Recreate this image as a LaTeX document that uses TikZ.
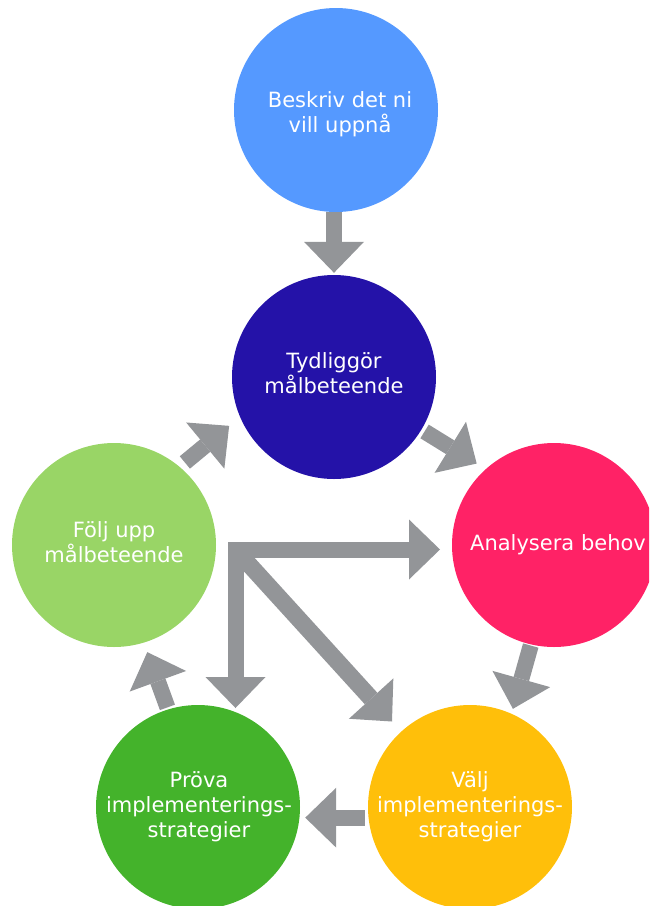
\documentclass[tikz,border=0pt]{standalone}
\usepackage{fontspec}
\setmainfont{DejaVu Sans}
\usetikzlibrary{arrows.meta,calc}
\definecolor{cblue}{RGB}{85,153,255}
\definecolor{cnavy}{RGB}{36,18,168}
\definecolor{cpink}{RGB}{255,34,102}
\definecolor{clgreen}{RGB}{153,213,102}
\definecolor{cgreen}{RGB}{68,179,43}
\definecolor{cyellow}{RGB}{255,191,10}
\definecolor{cgray}{RGB}{147,149,152}
\tikzset{
  >={Triangle[width=60pt,length=31pt,line width=0pt]},
  disc/.style={circle, minimum size=204pt, inner sep=0pt, draw=none},
  disctext/.style={text=white, align=center, inner sep=0pt,
    font=\fontsize{21pt}{25pt}\selectfont},
  gflow/.style={draw=cgray, line width=16pt, line join=miter, ->},
}
\begin{document}
\begin{tikzpicture}[x=1pt,y=-1pt]
\useasboundingbox (0,0) rectangle (649,906);
\clip (0,0) rectangle (649,906);
\node[disc, fill=cblue]   (blue)   at (336,110) {};
\node[disc, fill=cnavy]   (navy)   at (334,377) {};
\node[disc, fill=cpink]   (pink)   at (554,545) {};
\node[disc, fill=clgreen] (lgreen) at (114,545) {};
\node[disc, fill=cgreen]  (green)  at (198,807) {};
\node[disc, fill=cyellow] (yellow) at (470,807) {};
\node[disctext] (blue-t)   at ($(blue)+(4,4)$)    {Beskriv det ni\\vill uppnå};
\node[disctext] (navy-t)   at ($(navy)+(0,-4)$)   {Tydliggör\\målbeteende};
\node[disctext] (pink-t)   at ($(pink)+(4,0)$)    {Analysera behov};
\node[disctext] (lgreen-t) at ($(lgreen)+(0,-3)$) {Följ upp\\målbeteende};
\node[disctext] (green-t)  at ($(green)+(1,0)$)   {Pröva\\implementerings-\\strategier};
\node[disctext] (yellow-t) at ($(yellow)+(0,0)$)  {Välj\\implementerings-\\strategier};
% hub of the L and diagonal arrows
\coordinate (hub) at (235.5,549.5);
\coordinate (tipV) at (235.5,708);
\coordinate (tipH) at (440,549.5);
\coordinate (tipD) at (392,721.5);
% arrows
\draw[gflow, shorten >=2pt] (navy.north |- blue.south) -- (navy.north);
\draw[gflow, shorten <=3.5pt, shorten >=10.5pt] (navy.-31) -- (pink.132);
\draw[gflow, shorten <=1pt, shorten >=5pt] (pink.-103) -- (yellow.66);
\draw[gflow, shorten <=3.6pt, shorten >=5.6pt] (yellow.186) -- (green.-6);
\draw[gflow, shorten <=2pt, shorten >=10pt] (green.107) -- (lgreen.-73);
\draw[gflow, shorten <=6.7pt, shorten >=14pt] (lgreen.50) -- (navy.203);
\draw[gflow, <->] (tipV) -- (hub) -- (tipH);
\draw[gflow, line width=17pt] (hub) -- (tipD);
\end{tikzpicture}
\end{document}
